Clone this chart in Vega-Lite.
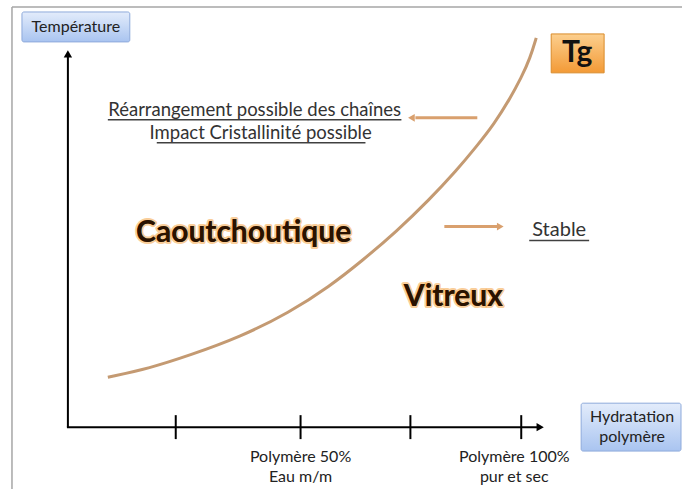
{
  "$schema": "https://vega.github.io/schema/vega-lite/v6.json",
  "width": 683,
  "height": 490,
  "autosize": {"type": "fit", "contains": "padding"},
  "padding": 0,
  "background": "white",
  "config": {"view": {"stroke": null}, "font": "Lato"},
  "encoding": {
    "x": {"field": "x", "type": "quantitative", "scale": {"domain": [0, 683], "nice": false, "zero": false}, "axis": null},
    "y": {"field": "y", "type": "quantitative", "scale": {"domain": [0, 490], "nice": false, "zero": false, "reverse": true}, "axis": null}
  },
  "layer": [
    {
      "data": {"values": [
        {"x": 12, "y": 7, "x2": 683, "y2": 7},
        {"x": 12, "y": 7, "x2": 12, "y2": 490}
      ]},
      "mark": {"type": "rule", "color": "#a6a6a6", "strokeWidth": 1.5},
      "encoding": {"x2": {"field": "x2"}, "y2": {"field": "y2"}}
    },
    {
      "data": {"values": [
        {"box": "temp", "x": 22, "y": 12, "x2": 130, "y2": 42},
        {"box": "hyd", "x": 582, "y": 404, "x2": 682, "y2": 452}
      ]},
      "mark": {"type": "rect", "stroke": "#8eaadb", "strokeWidth": 1, "cornerRadius": 2,
        "fill": {"gradient": "linear", "x1": 0, "y1": 0, "x2": 0, "y2": 1,
          "stops": [{"offset": 0, "color": "#e3ecfb"}, {"offset": 1, "color": "#a9c4f0"}]}},
      "encoding": {"x2": {"field": "x2"}, "y2": {"field": "y2"}}
    },
    {
      "data": {"values": [
        {"box": "tg", "x": 552, "y": 34, "x2": 605, "y2": 73}
      ]},
      "mark": {"type": "rect", "stroke": "#d98b2b", "strokeWidth": 1,
        "fill": {"gradient": "linear", "x1": 0, "y1": 0, "x2": 0, "y2": 1,
          "stops": [{"offset": 0, "color": "#fccf8e"}, {"offset": 1, "color": "#f39a36"}]}},
      "encoding": {"x2": {"field": "x2"}, "y2": {"field": "y2"}}
    },
    {
      "data": {"values": [
        {"x": 68, "y": 428, "x2": 68, "y2": 56},
        {"x": 67, "y": 428, "x2": 538, "y2": 428},
        {"x": 176, "y": 416, "x2": 176, "y2": 440},
        {"x": 301, "y": 416, "x2": 301, "y2": 440},
        {"x": 411, "y": 416, "x2": 411, "y2": 440},
        {"x": 522, "y": 416, "x2": 522, "y2": 440}
      ]},
      "mark": {"type": "rule", "color": "#000000", "strokeWidth": 2},
      "encoding": {"x2": {"field": "x2"}, "y2": {"field": "y2"}}
    },
    {
      "data": {"values": [{"x": 68, "y": 54}]},
      "mark": {"type": "point", "shape": "triangle-up", "filled": true, "color": "#000000", "size": 70, "opacity": 1}
    },
    {
      "data": {"values": [{"x": 541, "y": 428}]},
      "mark": {"type": "point", "shape": "triangle-right", "filled": true, "color": "#000000", "size": 70, "opacity": 1}
    },
    {
      "data": {"values": [
        {"x": 108, "y": 378}, {"x": 150, "y": 369}, {"x": 190, "y": 356}, {"x": 240, "y": 338},
        {"x": 290, "y": 313}, {"x": 330, "y": 287}, {"x": 363, "y": 261}, {"x": 397, "y": 232},
        {"x": 430, "y": 200}, {"x": 457, "y": 171}, {"x": 477, "y": 147}, {"x": 495, "y": 124},
        {"x": 510, "y": 100}, {"x": 522, "y": 78}, {"x": 531, "y": 58}, {"x": 537, "y": 38}
      ]},
      "mark": {"type": "line", "color": "#c49a72", "strokeWidth": 3, "interpolate": "basis"}
    },
    {
      "data": {"values": [
        {"x": 478, "y": 118, "x2": 416, "y2": 118},
        {"x": 445, "y": 227, "x2": 498, "y2": 227}
      ]},
      "mark": {"type": "rule", "color": "#d9a06e", "strokeWidth": 3},
      "encoding": {"x2": {"field": "x2"}, "y2": {"field": "y2"}}
    },
    {
      "data": {"values": [{"x": 412, "y": 118}]},
      "mark": {"type": "point", "shape": "triangle-left", "filled": true, "color": "#d9a06e", "size": 60, "opacity": 1}
    },
    {
      "data": {"values": [{"x": 501, "y": 227}]},
      "mark": {"type": "point", "shape": "triangle-right", "filled": true, "color": "#d9a06e", "size": 60, "opacity": 1}
    },
    {
      "data": {"values": [
        {"x": 108, "y": 120, "x2": 402, "y2": 120},
        {"x": 157, "y": 143, "x2": 366, "y2": 143},
        {"x": 530, "y": 241, "x2": 590, "y2": 241}
      ]},
      "mark": {"type": "rule", "color": "#404040", "strokeWidth": 1.5},
      "encoding": {"x2": {"field": "x2"}, "y2": {"field": "y2"}}
    },
    {
      "data": {"values": [
        {"x": 255, "y": 110, "label": "Réarrangement possible des chaînes"},
        {"x": 261, "y": 133, "label": "Impact Cristallinité possible"}
      ]},
      "mark": {"type": "text", "fontSize": 18.5, "color": "#333333", "align": "center", "baseline": "middle"},
      "encoding": {"text": {"field": "label"}}
    },
    {
      "data": {"values": [
        {"x": 560, "y": 230, "label": "Stable"}
      ]},
      "mark": {"type": "text", "fontSize": 20, "color": "#333333", "align": "center", "baseline": "middle"},
      "encoding": {"text": {"field": "label"}}
    },
    {
      "data": {"values": [
        {"x": 76, "y": 27, "label": "Température"},
        {"x": 633, "y": 418, "label": "Hydratation"},
        {"x": 633, "y": 438, "label": "polymère"},
        {"x": 301, "y": 458, "label": "Polymère 50%"},
        {"x": 301, "y": 478, "label": "Eau m/m"},
        {"x": 515, "y": 458, "label": "Polymère 100%"},
        {"x": 515, "y": 478, "label": "pur et sec"}
      ]},
      "mark": {"type": "text", "fontSize": 16, "color": "#222222", "align": "center", "baseline": "middle"},
      "encoding": {"text": {"field": "label"}}
    },
    {
      "data": {"values": [{"x": 578, "y": 53, "label": "Tg"}]},
      "mark": {"type": "text", "fontSize": 30, "fontWeight": "bold", "color": "#111111", "align": "center", "baseline": "middle"},
      "encoding": {"text": {"field": "label"}}
    },
    {
      "data": {"values": [
        {"x": 244, "y": 233, "label": "Caoutchoutique"},
        {"x": 454, "y": 298, "label": "Vitreux"}
      ]},
      "mark": {"type": "text", "fontSize": 30, "fontWeight": "bold", "align": "center", "baseline": "middle",
        "fill": "#2a1200", "stroke": "#f5a443", "strokeWidth": 4, "strokeOpacity": 0.55, "strokeJoin": "round"},
      "encoding": {"text": {"field": "label"}}
    },
    {
      "data": {"values": [
        {"x": 244, "y": 233, "label": "Caoutchoutique"},
        {"x": 454, "y": 298, "label": "Vitreux"}
      ]},
      "mark": {"type": "text", "fontSize": 30, "fontWeight": "bold", "align": "center", "baseline": "middle", "fill": "#2a1200"},
      "encoding": {"text": {"field": "label"}}
    }
  ]
}
